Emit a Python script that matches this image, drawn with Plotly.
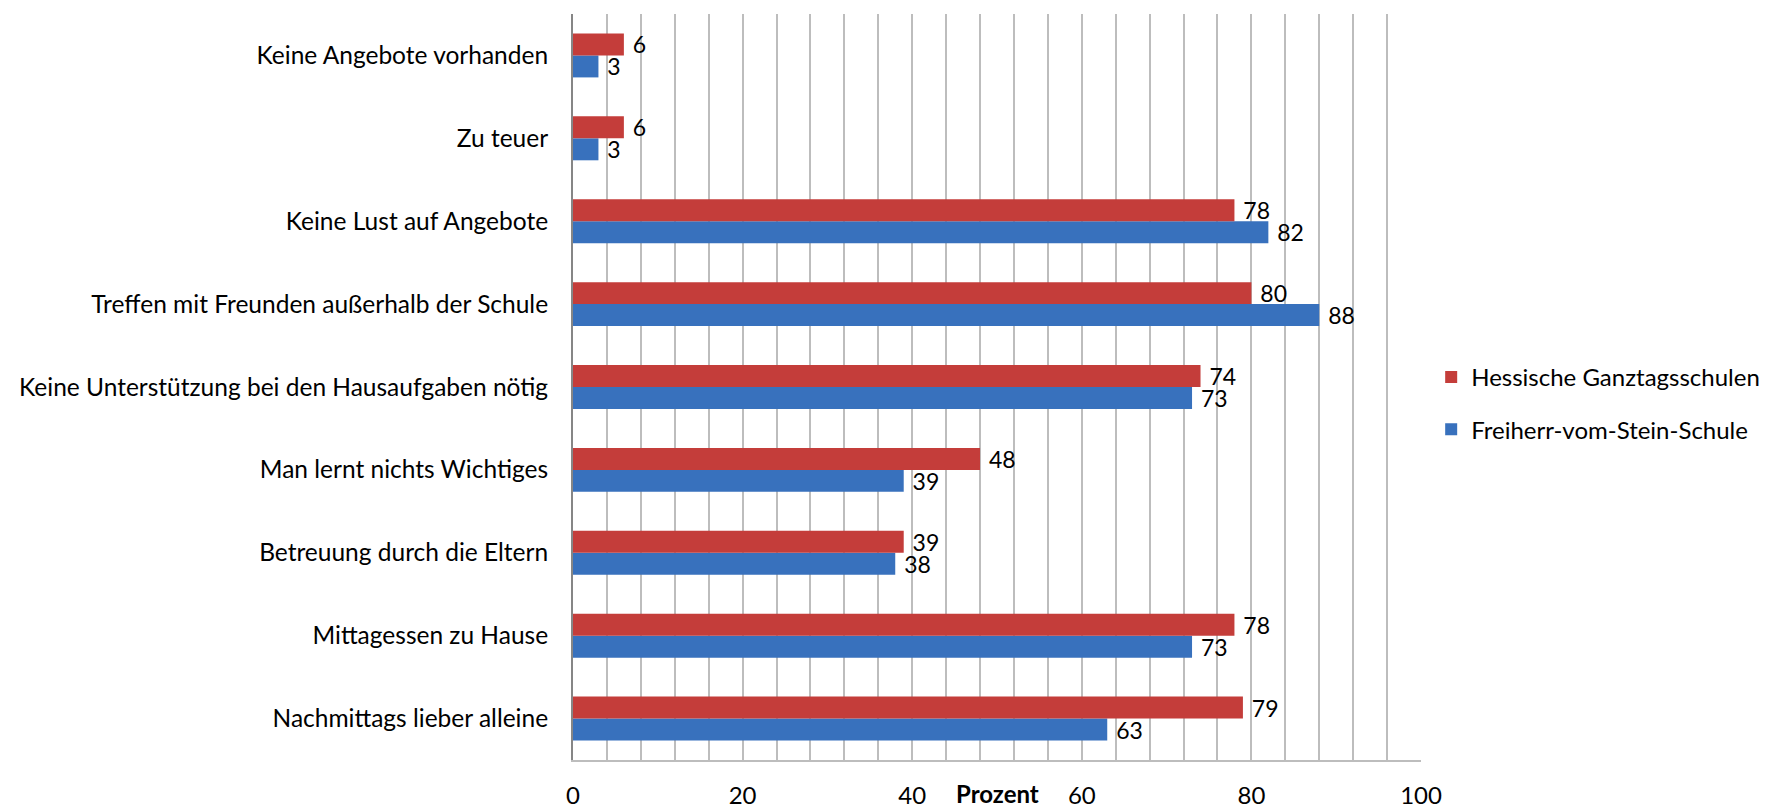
import plotly.graph_objects as go

categories = [
    "Keine Angebote vorhanden",
    "Zu teuer",
    "Keine Lust auf Angebote",
    "Treffen mit Freunden außerhalb der Schule",
    "Keine Unterstützung bei den Hausaufgaben nötig",
    "Man lernt nichts Wichtiges",
    "Betreuung durch die Eltern",
    "Mittagessen zu Hause",
    "Nachmittags lieber alleine",
]
hessen = [6, 6, 78, 80, 74, 48, 39, 78, 79]
stein = [3, 3, 82, 88, 73, 39, 38, 73, 63]
x_ticks = [0, 20, 40, 60, 80, 100]

FONT = "Lato"
FS = 24
LABEL_FS = 23
RED = "#C43D3A"
BLUE = "#3871BD"

fig = go.Figure()
fig.add_trace(go.Bar(
    y=categories, x=stein, orientation="h", name="Freiherr-vom-Stein-Schule",
    marker=dict(color=BLUE, line=dict(width=0)),
    text=stein, texttemplate="\u00a0%{x}", textposition="outside",
    constraintext="none",
    textfont=dict(family=FONT, size=LABEL_FS, color="black"), cliponaxis=False,
    legendgroup="b", legendrank=2,
))
fig.add_trace(go.Bar(
    y=categories, x=hessen, orientation="h", name="Hessische Ganztagsschulen",
    marker=dict(color=RED, line=dict(width=0)),
    text=hessen, texttemplate="\u00a0%{x}", textposition="outside",
    constraintext="none",
    textfont=dict(family=FONT, size=LABEL_FS, color="black"), cliponaxis=False,
    legendgroup="a", legendrank=1,
))

fig.update_layout(
    width=1771, height=806,
    paper_bgcolor="white", plot_bgcolor="white",
    margin=dict(l=565, r=358, t=6, b=54),
    barmode="group", bargap=0.47, bargroupgap=0,
    font=dict(family=FONT, size=FS, color="black"),
    showlegend=True,
    legend=dict(
        x=1.012, xanchor="left", y=0.478, yanchor="middle",
        traceorder="grouped", tracegroupgap=18,
        font=dict(family=FONT, size=FS, color="black"),
        bgcolor="rgba(0,0,0,0)",
    ),
    xaxis=dict(
        range=[0, 100], tickvals=x_ticks, ticktext=[str(v) for v in x_ticks],
        showgrid=True, gridcolor="#bdbdbd", gridwidth=1.5,
        minor=dict(dtick=4, showgrid=True, gridcolor="#bdbdbd", gridwidth=1.5),
        zeroline=False, showline=True, linecolor="#bdbdbd", linewidth=1.5,
        ticks="outside", ticklen=13, tickcolor="rgba(0,0,0,0)",
        tickfont=dict(family=FONT, size=FS, color="black"),
        automargin=False, fixedrange=True,
    ),
    yaxis=dict(
        categoryorder="array", categoryarray=categories[::-1],
        showline=True, linecolor="#868686", linewidth=2,
        showgrid=False, zeroline=False,
        ticks="outside", ticklen=18, tickcolor="rgba(0,0,0,0)",
        tickfont=dict(family=FONT, size=24.5, color="black"),
        automargin=False,
    ),
    annotations=[dict(
        text="<b>Prozent</b>", x=50, xref="x", y=0, yref="paper",
        yanchor="top", yshift=-17, showarrow=False,
        font=dict(family=FONT, size=FS, color="black"),
    )],
)

fig.write_html("out.html")
